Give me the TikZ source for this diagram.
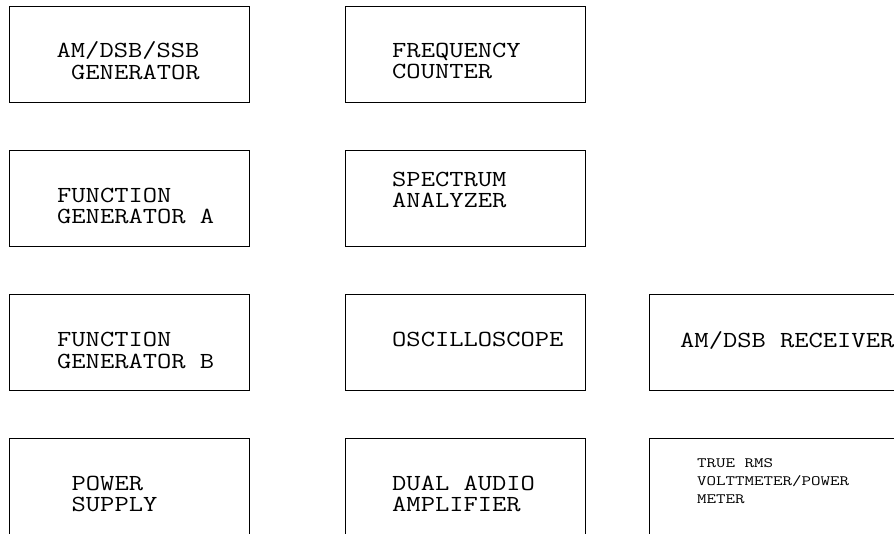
\documentclass[tikz,border=0pt]{standalone}
\usepackage{graphicx}
\newcommand{\bigw}[1]{\scalebox{1.205}[1]{#1}}
\newcommand{\smallw}[1]{\scalebox{1.29}[1]{#1}}
\begin{document}
\begin{tikzpicture}[x=1pt,y=-1pt,
  box/.style={draw=black,line width=1pt,inner sep=0pt,minimum width=240pt,minimum height=96pt},
  wbox/.style={box,minimum width=262pt},
  big/.style={anchor=base west,inner sep=0pt,text height=15pt,text depth=2pt,
    font=\ttfamily\fontsize{23}{22}\selectfont},
  small/.style={anchor=base west,inner sep=0pt,text height=9pt,text depth=1pt,
    font=\ttfamily\fontsize{14.3}{18}\selectfont}]
\useasboundingbox (0,0) rectangle (894,533);
\clip (0,0) rectangle (894,533);
% boxes
\node[box] (gen)  at (129,54) {};
\node[box] (freq) at (465,54) {};
\node[box] (fga)  at (129,198.5) {};
\node[box] (spec) at (465,198.5) {};
\node[box] (fgb)  at (129,342) {};
\node[box] (osc)  at (465,342) {};
\node[wbox] (rcv) at (780,342) {};
\node[box] (psu)  at (129,486) {};
\node[box] (amp)  at (465,486) {};
\node[wbox] (rms) at (780,486) {};
% texts
\node[big] (gen1) at (56.5,57) {\bigw{AM/DSB/SSB}};
\node[big] (gen2) at (71,79) {\bigw{GENERATOR}};
\node[big] (freq1) at (392,57) {\bigw{FREQUENCY}};
\node[big] (freq2) at (392,78) {\bigw{COUNTER}};
\node[big] (fga1) at (57,202) {\bigw{FUNCTION}};
\node[big] (fga2) at (57,223) {\bigw{GENERATOR A}};
\node[big] (spec1) at (392,186) {\bigw{SPECTRUM}};
\node[big] (spec2) at (392,207) {\bigw{ANALYZER}};
\node[big] (fgb1) at (57,346) {\bigw{FUNCTION}};
\node[big] (fgb2) at (57,368) {\bigw{GENERATOR B}};
\node[big] (osc1) at (392,346) {\bigw{OSCILLOSCOPE}};
\node[big] (rcv1) at (680,347) {\bigw{AM/DSB RECEIVER}};
\node[big] (psu1) at (71.5,490) {\bigw{POWER}};
\node[big] (psu2) at (71.5,511) {\bigw{SUPPLY}};
\node[big] (amp1) at (392,490) {\bigw{DUAL AUDIO}};
\node[big] (amp2) at (392,511) {\bigw{AMPLIFIER}};
\node[small] (rms1) at (697,467) {\smallw{TRUE RMS}};
\node[small] (rms2) at (697,485) {\smallw{VOLTTMETER/POWER}};
\node[small] (rms3) at (697,503) {\smallw{METER}};
\end{tikzpicture}
\end{document}
